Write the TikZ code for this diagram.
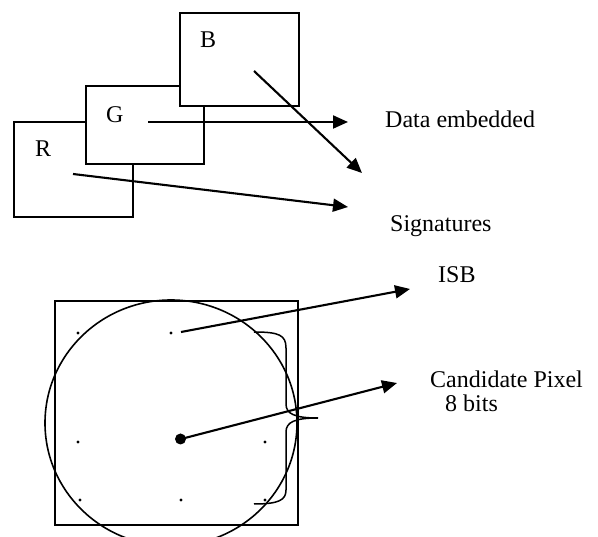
\documentclass[tikz,border=0pt]{standalone}
\usepackage{fontspec}
\setmainfont{Liberation Serif}
\usetikzlibrary{arrows.meta}
\begin{document}
\begin{tikzpicture}[x=1pt,y=-1pt,
  lbl/.style={anchor=base west,inner sep=0pt,font=\fontsize{24}{28}\selectfont},
  chan/.style={draw,line width=1.3pt,fill=white},
  arr/.style={line width=2.1pt,-{Triangle[length=15pt,width=13pt]}},
  thin/.style={line width=1.5pt},
  pix/.style={fill=black}]
\useasboundingbox (0,0) rectangle (598,537);
% colour channel boxes
\draw[chan] (14,122) rectangle (133,217);
\draw[chan] (86,86) rectangle (204,164);
\draw[chan] (180,13) rectangle (299,106);
\node[lbl] (Bl) at (200,48) {B};
\node[lbl] (Gl) at (106,123) {G};
\node[lbl] (Rl) at (35,157) {R};
\node[lbl] (data) at (385,128) {Data embedded};
\node[lbl] (sig) at (390,232) {Signatures};
\coordinate (gs) at (148,122); \coordinate (ge) at (348,122);
\coordinate (bs) at (254,71);  \coordinate (be) at (362,173);
\coordinate (rs) at (73,174);  \coordinate (re) at (348,207);
\draw[arr] (gs) -- (ge);
\draw[arr] (bs) -- (be);
\draw[arr] (rs) -- (re);
% pixel block
\draw[thin] (55,301) rectangle (298,525);
\draw[line width=1.6pt] (171,423) ellipse [x radius=126, y radius=123];
\foreach \p/\q in {78/333,171/333,78/442,265/442,80/500,181/500,265/500}
  \fill[pix] (\p,\q) circle (1.6);
\fill[pix] (180.5,439) circle (5.5);
\coordinate (isbs) at (181,332); \coordinate (isbe) at (410,289);
\coordinate (cps) at (181,439);  \coordinate (cpe) at (397,383);
\draw[arr] (isbs) -- (isbe);
\draw[arr] (cps) -- (cpe);
\draw[thin] (254,332) .. controls (279,332) and (286,335) .. (286,348)
  -- (286,404) .. controls (286,414) and (295,418) .. (318,418)
  .. controls (295,418) and (286,422) .. (286,432)
  -- (286,490) .. controls (286,500) and (279,504) .. (254,504);
\node[lbl] (isb) at (438,283) {ISB};
\node[lbl,align=left] (cp) at (430,388) {Candidate Pixel};
\node[lbl] (bits) at (445,412) {8 bits};
\end{tikzpicture}
\end{document}
